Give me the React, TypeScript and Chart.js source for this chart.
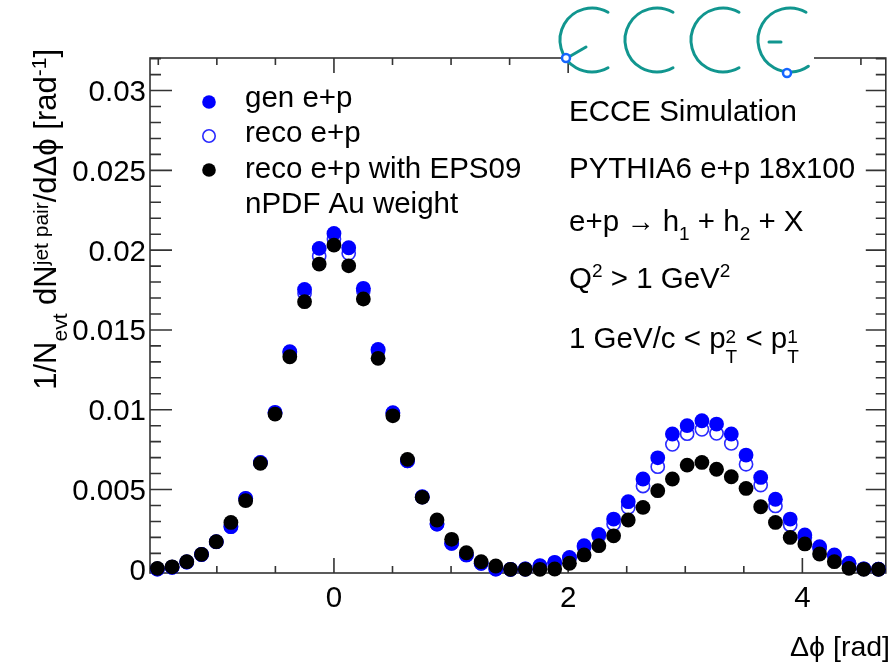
import React, { useEffect, useRef } from "react";
import { Chart, registerables } from "chart.js";
Chart.register(...registerables);

// Bin centres of the Δϕ histogram (rad)
const deltaPhi = [
  -1.508, -1.382, -1.257, -1.131, -1.005, -0.88, -0.754, -0.628, -0.503, -0.377,
  -0.251, -0.126, 0.0, 0.126, 0.251, 0.377, 0.503, 0.628, 0.754, 0.88,
  1.005, 1.131, 1.257, 1.382, 1.508, 1.634, 1.759, 1.885, 2.011, 2.136,
  2.262, 2.388, 2.513, 2.639, 2.765, 2.89, 3.016, 3.142, 3.267, 3.393,
  3.519, 3.644, 3.77, 3.896, 4.021, 4.147, 4.273, 4.398, 4.524, 4.65,
];

const genEP = [
  0.00002, 0.00013, 0.00046, 0.00093, 0.00173, 0.00267, 0.00445, 0.0067, 0.00984, 0.01364,
  0.01754, 0.02011, 0.02105, 0.02015, 0.01761, 0.01378, 0.00981, 0.0068, 0.00455, 0.00284,
  0.00163, 0.0009, 0.00038, 0.00002, 0.0, 0.00002, 0.00023, 0.00044, 0.00075, 0.00148,
  0.00219, 0.00315, 0.00424, 0.00566, 0.00699, 0.00848, 0.009, 0.00931, 0.0091, 0.00848,
  0.00716, 0.00576, 0.00439, 0.00315, 0.00215, 0.00142, 0.0009, 0.00038, 0.00003, 0.00001,
];

const recoEP = [
  0.00002, 0.00013, 0.00046, 0.00093, 0.00172, 0.00268, 0.00443, 0.00668, 0.0098, 0.0136,
  0.0173, 0.01963, 0.0207, 0.0198, 0.01746, 0.0137, 0.00978, 0.00679, 0.00453, 0.00284,
  0.00163, 0.0009, 0.00038, 0.00002, 0.0, 0.00002, 0.0002, 0.0004, 0.0007, 0.0014,
  0.0021, 0.00284, 0.00388, 0.00522, 0.00643, 0.00783, 0.0085, 0.00877, 0.00852, 0.00789,
  0.00658, 0.00528, 0.00397, 0.00278, 0.00198, 0.00132, 0.00085, 0.00035, 0.00003, 0.00001,
];

const recoEPS09 = [
  0.00006, 0.00016, 0.00048, 0.00094, 0.00173, 0.00294, 0.0043, 0.00664, 0.00973, 0.01332,
  0.01677, 0.01913, 0.02032, 0.01902, 0.01694, 0.01322, 0.00962, 0.00689, 0.00451, 0.00309,
  0.00188, 0.00104, 0.00048, 0.00021, 0.0, 0.0, 0.0, 0.00002, 0.00038, 0.0009,
  0.00148, 0.0021, 0.00309, 0.00388, 0.00493, 0.00566, 0.00653, 0.0067, 0.00627, 0.0058,
  0.00507, 0.00392, 0.00294, 0.002, 0.00159, 0.00096, 0.00048, 0.00006, 0.0, 0.0,
];

const xTickLabels = [0, 2, 4];
const yTickLabels = [0, 0.005, 0.01, 0.015, 0.02, 0.025, 0.03];
const legendLabels = ["gen e+p", "reco e+p", "reco e+p with EPS09", "nPDF Au weight"];

const X_MIN = -Math.PI / 2;
const X_MAX = (3 * Math.PI) / 2;
const Y_MIN = -0.00023;
const Y_MAX = 0.03204;

const FAMILY = '"Liberation Sans", Arial, Helvetica, sans-serif';
const font = (s: number) => `${s}px ${FAMILY}`;

type Seg = { t: string; sup?: string; sub?: string; supDy?: number; subDy?: number; sx?: number };

function segW(ctx: CanvasRenderingContext2D, s: Seg, size: number) {
  ctx.font = font(size);
  return ctx.measureText(s.t).width * (s.sx ?? 1);
}

function richWidth(ctx: CanvasRenderingContext2D, segs: Seg[], size: number, small: number) {
  let w = 0;
  for (const s of segs) {
    w += segW(ctx, s, size);
    ctx.font = font(small);
    const a = s.sup ? ctx.measureText(s.sup).width : 0;
    const b = s.sub ? ctx.measureText(s.sub).width : 0;
    w += Math.max(a, b);
  }
  return w;
}

function drawRich(
  ctx: CanvasRenderingContext2D,
  segs: Seg[],
  x: number,
  y: number,
  size: number,
  small: number,
  align: "left" | "right" = "left"
) {
  const total = richWidth(ctx, segs, size, small);
  let cx = align === "right" ? x - total : x;
  ctx.textAlign = "left";
  ctx.textBaseline = "alphabetic";
  for (const s of segs) {
    ctx.font = font(size);
    const w = segW(ctx, s, size);
    if (s.sx && s.sx !== 1) {
      ctx.save();
      ctx.translate(cx, y);
      ctx.scale(s.sx, 1);
      ctx.fillText(s.t, 0, 0);
      ctx.restore();
    } else {
      ctx.fillText(s.t, cx, y);
    }
    cx += w;
    ctx.font = font(small);
    let adv = 0;
    if (s.sup) {
      ctx.fillText(s.sup, cx, y - (s.supDy ?? size * 0.36));
      adv = Math.max(adv, ctx.measureText(s.sup).width);
    }
    if (s.sub) {
      ctx.fillText(s.sub, cx, y + (s.subDy ?? size * 0.32));
      adv = Math.max(adv, ctx.measureText(s.sub).width);
    }
    cx += adv;
  }
}

const TXT = 29.5;

const frameDecor = {
  id: "frameDecor",
  beforeDatasetsDraw(chart: any) {
    const ctx: CanvasRenderingContext2D = chart.ctx;
    const { left, right, top, bottom } = chart.chartArea;
    const xs = chart.scales.x;
    const ys = chart.scales.y;
    ctx.save();
    ctx.strokeStyle = "#333";
    ctx.lineWidth = 1.6;
    ctx.strokeRect(left, top, right - left, bottom - top);
    ctx.beginPath();
    // x ticks every 0.5, major every 2
    for (let i = -3; i <= 9; i++) {
      const v = i * 0.5;
      const px = xs.getPixelForValue(v);
      if (px < left || px > right) continue;
      const major = i % 4 === 0;
      const len = major ? 15 : 7;
      ctx.moveTo(px, bottom);
      ctx.lineTo(px, bottom - len);
      ctx.moveTo(px, top);
      ctx.lineTo(px, top + len);
    }
    // y ticks every 0.001, major every 0.005
    for (let i = 0; i <= 32; i++) {
      const py = ys.getPixelForValue(i * 0.001);
      if (py < top || py > bottom) continue;
      const major = i % 5 === 0;
      ctx.moveTo(left, py);
      ctx.lineTo(left + (major ? 22 : 11), py);
      ctx.moveTo(right, py);
      ctx.lineTo(right - (major ? 20 : 10), py);
    }
    ctx.stroke();

    // tick labels
    ctx.fillStyle = "#000";
    ctx.font = font(TXT);
    ctx.textBaseline = "alphabetic";
    ctx.textAlign = "center";
    for (const v of xTickLabels) {
      ctx.fillText(String(v), xs.getPixelForValue(v), 607);
    }
    ctx.textAlign = "right";
    for (const v of yTickLabels) {
      const label = v === 0 ? "0" : String(parseFloat(v.toFixed(3)));
      ctx.fillText(label, 146, ys.getPixelForValue(v) + 10.5);
    }
    ctx.restore();
  },
  afterDraw(chart: any) {
    const ctx: CanvasRenderingContext2D = chart.ctx;
    ctx.save();
    ctx.fillStyle = "#000";

    // x-axis title
    ctx.font = font(28.5);
    ctx.textAlign = "right";
    ctx.textBaseline = "alphabetic";
    ctx.fillText("\u0394\u03d5 [rad]", 890, 656);

    // y-axis title (rotated)
    ctx.save();
    ctx.translate(56, 49);
    ctx.rotate(-Math.PI / 2);
    drawRich(
      ctx,
      [
        { t: "1/N", sub: "evt", subDy: 11 },
        { t: " dN", sup: "jet pair", supDy: 8 },
        { t: "/d\u0394\u03d5 [rad", sup: "-1", supDy: 10 },
        { t: "]" },
      ],
      0,
      0,
      31,
      21,
      "right"
    );
    ctx.restore();

    // legend
    const lx = 209;
    const ly = [102, 136, 170];
    ctx.beginPath();
    ctx.fillStyle = "#0000ff";
    ctx.arc(lx, ly[0], 6.8, 0, Math.PI * 2);
    ctx.fill();
    ctx.beginPath();
    ctx.strokeStyle = "#2a2aff";
    ctx.lineWidth = 1.6;
    ctx.arc(lx, ly[1], 6.2, 0, Math.PI * 2);
    ctx.stroke();
    ctx.beginPath();
    ctx.fillStyle = "#000";
    ctx.arc(lx, ly[2], 6.8, 0, Math.PI * 2);
    ctx.fill();
    ctx.font = font(TXT);
    ctx.textAlign = "left";
    const lb = [107, 142, 178, 213];
    legendLabels.forEach((t, i) => ctx.fillText(t, 245, lb[i]));

    // annotations
    const ax = 569;
    ctx.font = font(TXT);
    ctx.fillText("ECCE Simulation", ax, 121);
    ctx.fillText("PYTHIA6 e+p 18x100", ax, 178);
    drawRich(
      ctx,
      [
        { t: "e+p" },
        { t: " \u2192 ", sx: 0.95 },
        { t: "h", sub: "1", subDy: 9 },
        { t: " + h", sub: "2", subDy: 9 },
        { t: " + X" },
      ],
      ax,
      231,
      TXT,
      19
    );
    drawRich(
      ctx,
      [
        { t: "Q", sup: "2", supDy: 11 },
        { t: " > 1 GeV", sup: "2", supDy: 11 },
      ],
      ax,
      288,
      TXT,
      19
    );
    drawRich(
      ctx,
      [
        { t: "1 GeV/c < p", sup: "2", supDy: 5, sub: "T", subDy: 15 },
        { t: " < p", sup: "1", supDy: 5, sub: "T", subDy: 15 },
      ],
      ax,
      348,
      TXT,
      19
    );

    // ECCE logo
    ctx.fillStyle = "#fff";
    ctx.fillRect(570, 50, 244, 24);
    const teal = "#11968f";
    ctx.strokeStyle = teal;
    ctx.lineWidth = 3;
    ctx.lineCap = "round";
    const cy = 40;
    const r = 32;
    const a0 = (-60 * Math.PI) / 180;
    const a1 = (60 * Math.PI) / 180;
    for (const cx of [592, 657, 723]) {
      ctx.beginPath();
      ctx.arc(cx, cy, r, a0, a1, true);
      ctx.stroke();
    }
    ctx.beginPath();
    ctx.arc(790, cy, r, a0, (55 * Math.PI) / 180, true);
    ctx.stroke();
    // E middle strokes
    ctx.beginPath();
    ctx.moveTo(567, 58);
    ctx.lineTo(586, 47);
    ctx.moveTo(769, 42);
    ctx.lineTo(781, 42);
    ctx.stroke();
    // blue rings
    ctx.strokeStyle = "#1565ff";
    ctx.fillStyle = "#fff";
    ctx.lineWidth = 2.5;
    for (const [bx, by] of [
      [566, 58],
      [787, 73],
    ]) {
      ctx.beginPath();
      ctx.arc(bx, by, 4, 0, Math.PI * 2);
      ctx.fill();
      ctx.stroke();
    }
    ctx.restore();
  },
};

export default function App() {
  const ref = useRef<HTMLCanvasElement>(null);
  useEffect(() => {
    if (!ref.current) return;
    const mk = (ys: number[]) => deltaPhi.map((x, i) => ({ x, y: ys[i] }));
    const chart = new Chart(ref.current, {
      type: "scatter",
      data: {
        datasets: [
          {
            label: legendLabels[0],
            data: mk(genEP),
            pointRadius: 7.4,
            pointBorderWidth: 0,
            backgroundColor: "#0000ff",
            borderColor: "#0000ff",
            order: 2,
            clip: false,
          },
          {
            label: legendLabels[1],
            data: mk(recoEP),
            pointRadius: 6.6,
            pointBorderWidth: 1.6,
            backgroundColor: "rgba(255,255,255,0)",
            borderColor: "#2a2aff",
            order: 3,
            clip: false,
          },
          {
            label: legendLabels[2],
            data: mk(recoEPS09),
            pointRadius: 7.4,
            pointBorderWidth: 0,
            backgroundColor: "#000",
            borderColor: "#000",
            order: 1,
            clip: false,
          },
        ],
      },
      options: {
        responsive: false,
        animation: false,
        devicePixelRatio: 1,
        events: [],
        layout: { padding: { left: 0, right: 4, top: 58, bottom: 0 } },
        plugins: { legend: { display: false }, tooltip: { enabled: false } },
        scales: {
          x: {
            type: "linear",
            min: X_MIN,
            max: X_MAX,
            grid: { display: false, drawTicks: false },
            border: { display: false },
            ticks: { display: false },
            afterFit: (s: any) => {
              s.height = 90;
            },
          },
          y: {
            type: "linear",
            min: Y_MIN,
            max: Y_MAX,
            grid: { display: false, drawTicks: false },
            border: { display: false },
            ticks: { display: false },
            afterFit: (s: any) => {
              s.width = 150;
            },
          },
        },
      },
      plugins: [frameDecor],
    } as any);
    return () => chart.destroy();
  }, []);
  return (
    <div style={{ position: "fixed", left: 0, top: 0, width: 894, height: 663, background: "#fff" }}>
      <canvas ref={ref} width={894} height={663} style={{ display: "block" }} />
    </div>
  );
}
